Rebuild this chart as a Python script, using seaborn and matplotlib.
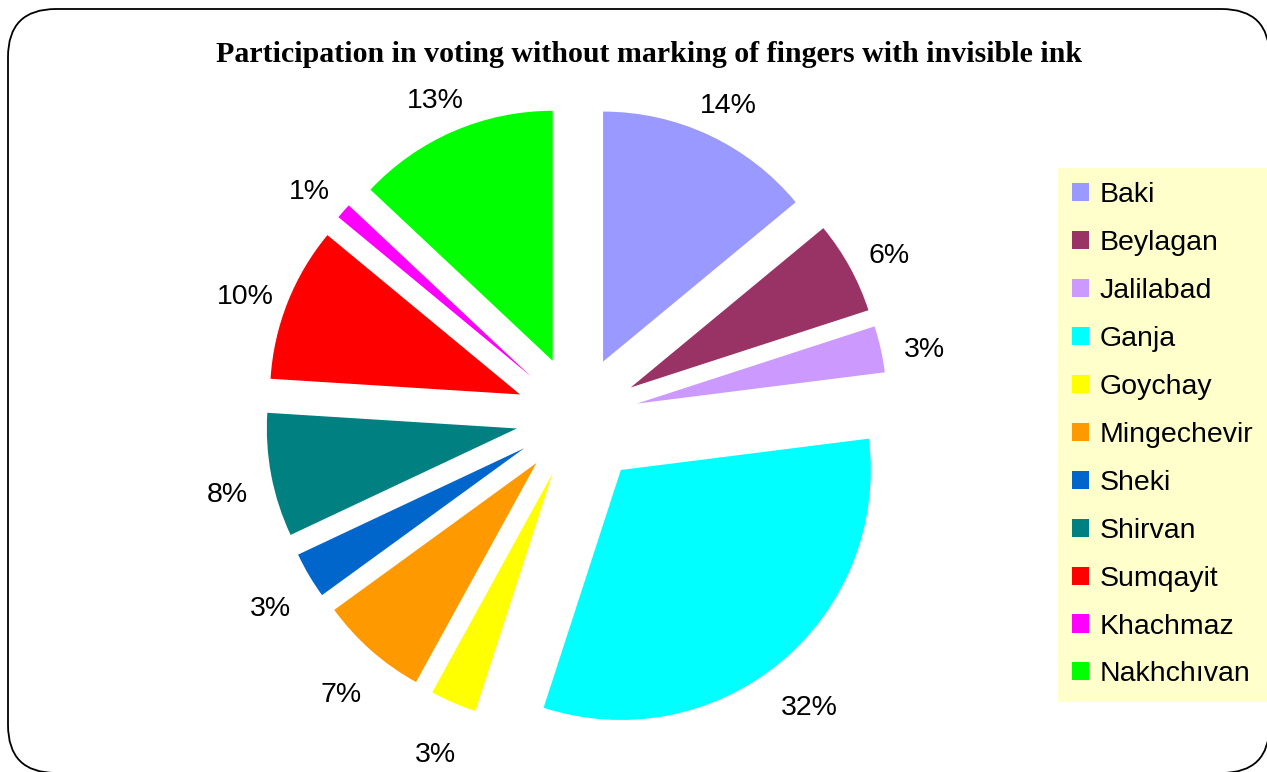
import matplotlib
matplotlib.use("Agg")
import matplotlib.pyplot as plt
from matplotlib.patches import FancyBboxPatch, Polygon
from matplotlib.transforms import IdentityTransform
import seaborn as sns

# Share of participation by city (percent)
cities = ["Baki", "Beylagan", "Jalilabad", "Ganja", "Goychay", "Mingechevir",
          "Sheki", "Shirvan", "Sumqayit", "Khachmaz", "Nakhchıvan"]
shares = [14, 6, 3, 32, 3, 7, 3, 8, 10, 1, 13]
slice_colors = ["#9999FF", "#993366", "#CC99FF", "#00FFFF", "#FFFF00", "#FF9900",
                "#0066CC", "#008080", "#FF0000", "#FF00FF", "#00FF00"]
title = "Participation in voting without marking of fingers with invisible ink"

sns.set_theme(style="white")
plt.rcParams["font.family"] = ["Liberation Sans", "DejaVu Sans"]
plt.rcParams["text.color"] = "black"

W, H = 1267, 772
fig = plt.figure(figsize=(W / 100, H / 100), dpi=100)
fig.patch.set_facecolor("white")

# rounded outer frame in pixel coordinates; the curved outline is flattened
# into a polygon so that clipping at the canvas edge stays clean
box = FancyBboxPatch((8, -1), 1261.5, H - 9 + 1,
                     boxstyle="round,pad=0,rounding_size=48")
outline = box.get_path().to_polygons(closed_only=False)[0]
frame = Polygon(outline, closed=True, transform=IdentityTransform(),
                facecolor="none", edgecolor="black", linewidth=1.3)
fig.patches.append(frame)

# axes in units of the pie radius
R = 250.0
cx, cy = 577.0, 417.0
ax = fig.add_axes([0, 0, 1, 1])
palette = sns.color_palette(slice_colors)
explode = [0.245] * len(shares)
explode[cities.index("Ganja")] = 0.275

wedges, texts, autotexts = ax.pie(
    shares, colors=palette, explode=explode, startangle=90, counterclock=False,
    autopct="%1.0f%%", pctdistance=1.18, radius=1.0,
    wedgeprops=dict(linewidth=0), textprops=dict(fontsize=20.5, color="black"))

# percentage labels sit a little below their slice axis
for t in autotexts:
    x, y = t.get_position()
    t.set_position((x, y - 11 / R))

ax.set_xlim(-cx / R, (W - cx) / R)
ax.set_ylim(-(H - cy) / R, cy / R)
ax.set_aspect("equal")
ax.axis("off")

fig.text(649 / W, 1 - 62 / H, title, ha="center", va="baseline", color="black",
         fontsize=21.5, fontweight="bold", family=["Liberation Serif", "DejaVu Serif"])

leg = fig.legend(wedges, cities, loc="upper left",
                 bbox_to_anchor=(1058 / W, 1 - 168 / H),
                 fontsize=20.5, frameon=True, fancybox=False,
                 facecolor="#FFFFCC", edgecolor="#FFFFCC", framealpha=1,
                 handlelength=0.6, handleheight=0.6, handletextpad=0.36,
                 labelspacing=0.77, borderpad=0.5, borderaxespad=0)
leg.get_frame().set_linewidth(0)
for t in leg.get_texts():
    t.set_color("black")

fig.savefig("out.png", dpi=100, facecolor="white")
